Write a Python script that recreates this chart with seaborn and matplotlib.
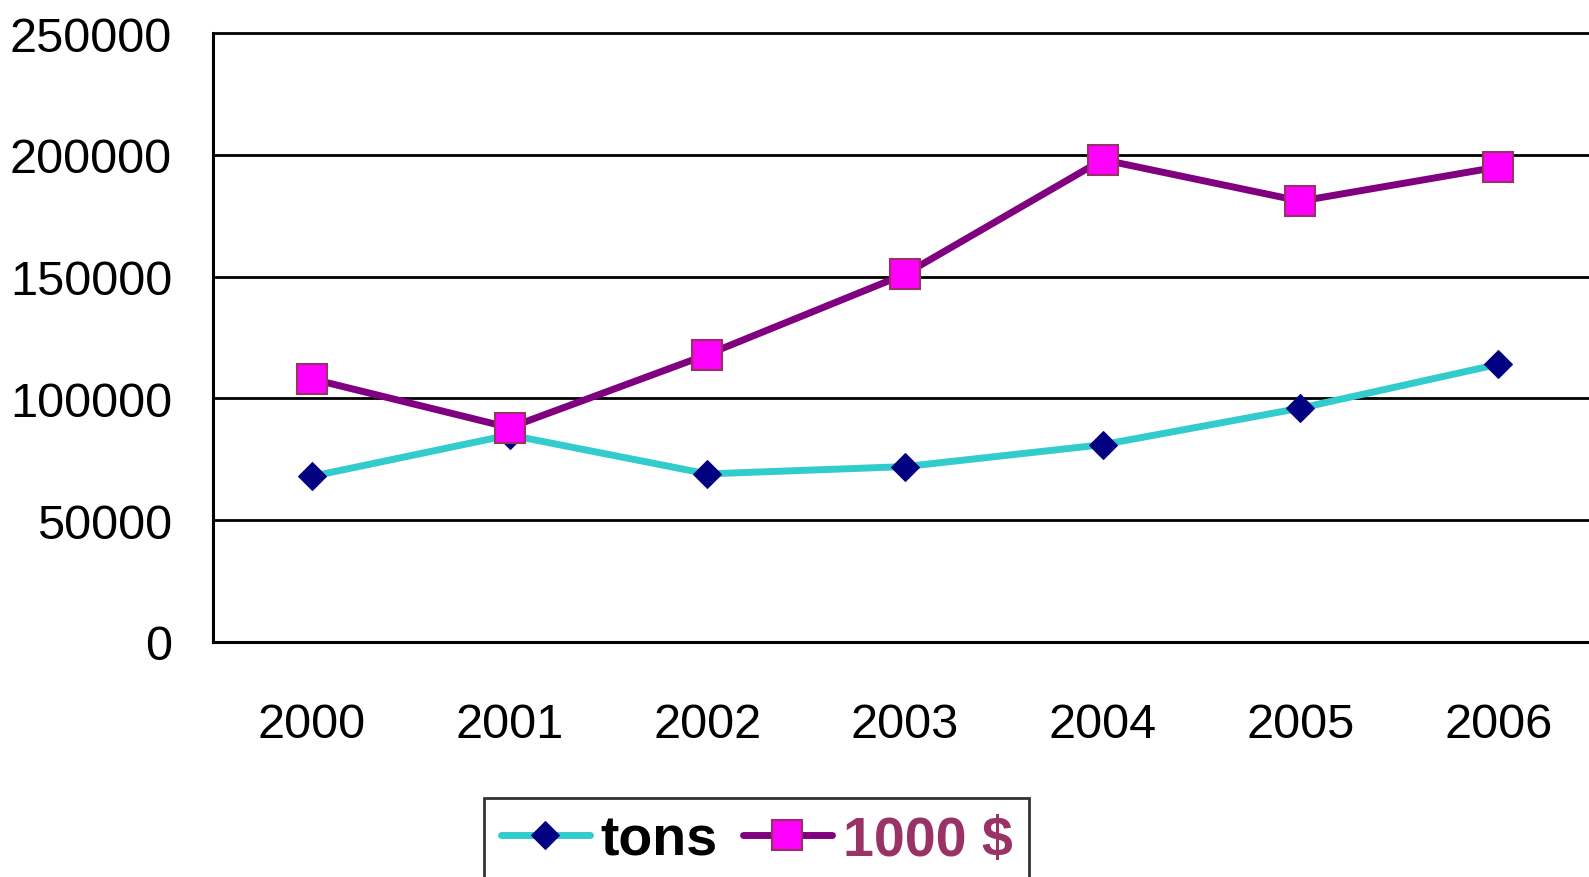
import numpy as np
import pandas as pd
import matplotlib
matplotlib.use("Agg")
import matplotlib.pyplot as plt
import seaborn as sns

# data
years = ["2000", "2001", "2002", "2003", "2004", "2005", "2006"]
tons = [68000, 85000, 69000, 72000, 81000, 96000, 114000]
thousand_usd = [108000, 88000, 118000, 151000, 198000, 181000, 195000]
y_ticks = [0, 50000, 100000, 150000, 200000, 250000]

df = pd.DataFrame({"pos": np.arange(len(years)), "tons": tons, "usd": thousand_usd})

sns.set_style("white")
plt.rcParams["font.family"] = ["Liberation Sans", "DejaVu Sans"]
plt.rcParams["text.color"] = "black"
plt.rcParams["xtick.color"] = "black"
plt.rcParams["ytick.color"] = "black"

W, H = 1589, 878
fig = plt.figure(figsize=(W / 100, H / 100), dpi=100)
ax = fig.add_axes([213 / W, 235 / H, 1384 / W, 609 / H])

sns.lineplot(data=df, x="pos", y="tons", ax=ax, color="#33CCCC", lw=5,
             marker="D", markersize=14, markerfacecolor="#000080",
             markeredgecolor="#000080", label="tons", zorder=3)
sns.lineplot(data=df, x="pos", y="usd", ax=ax, color="#800080", lw=5,
             marker="s", markersize=22, markerfacecolor="#FF00FF",
             markeredgecolor="#993366", markeredgewidth=1.5,
             label="1000 $", zorder=4)

# axes styling (Excel-like)
ax.set_xlim(-0.5, len(years) - 0.5)
ax.set_ylim(0, 250000)
ax.set_yticks(y_ticks)
ax.set_yticklabels([str(v) for v in y_ticks])
ax.set_xticks(np.arange(len(years) + 1) - 0.5)
ax.set_xticklabels([])
ax.set_xticks(np.arange(len(years)), minor=True)
ax.set_xticklabels(years, minor=True)
ax.tick_params(axis="x", which="major", direction="out", length=12, width=2,
               color="black")
ax.tick_params(axis="x", which="minor", length=0, pad=43, labelsize=35,
               labelcolor="black")
ax.tick_params(axis="y", direction="out", length=11.5, width=2, color="black",
               pad=18, labelsize=35, labelcolor="black")
ax.set_xlabel("")
ax.set_ylabel("")

ax.yaxis.grid(True, color="black", lw=2)
ax.xaxis.grid(False)
ax.set_axisbelow(True)
for ln in ax.get_ygridlines():
    ln.set_clip_on(False)
for side in ["top", "right"]:
    ax.spines[side].set_visible(False)
for side in ["left", "bottom"]:
    ax.spines[side].set_color("black")
    ax.spines[side].set_linewidth(2.2)

# legend at bottom, cut by the figure edge
handles, labels = ax.get_legend_handles_labels()
ax.get_legend().remove()
leg = fig.legend(handles, labels, loc="upper left",
                 bbox_to_anchor=(484 / W, 1 - 799 / H), ncol=2,
                 frameon=True, fancybox=False, edgecolor="black",
                 prop={"weight": "bold", "size": 40},
                 handlelength=1.6, handletextpad=0.2, columnspacing=0.45,
                 borderpad=0.3, borderaxespad=0)
leg.get_frame().set_linewidth(2)
leg.get_texts()[0].set_color("black")
leg.get_texts()[1].set_color("#993366")

fig.savefig("out.png", dpi=100)
